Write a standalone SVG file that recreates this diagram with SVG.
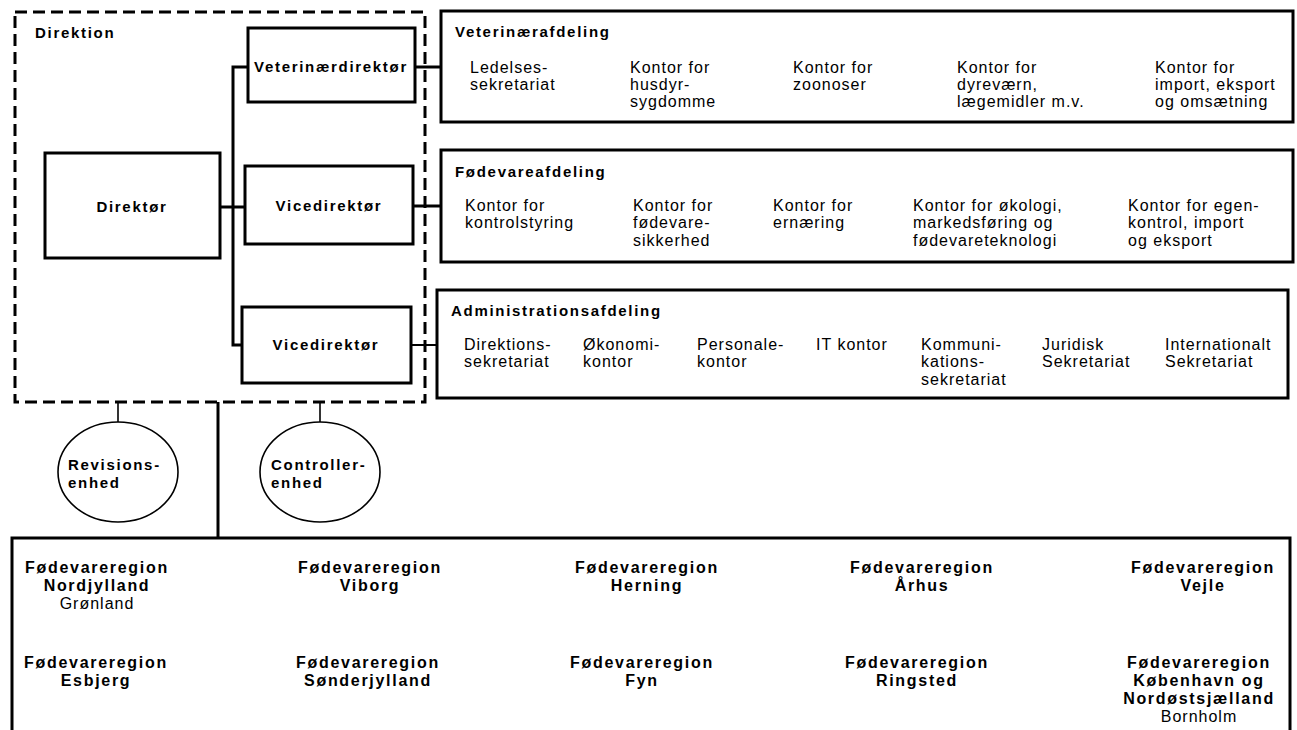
<svg xmlns="http://www.w3.org/2000/svg" width="1297" height="730" viewBox="0 0 1297 730">
<style>
.box{fill:#fff;stroke:#000;stroke-width:3}
.dash{fill:none;stroke:#000;stroke-width:3;stroke-dasharray:12 6}
.ell{fill:#fff;stroke:#000;stroke-width:1.6}
.ln{fill:none;stroke:#000;stroke-width:3}
.thin{fill:none;stroke:#000;stroke-width:1.6}
text{font-family:"Liberation Sans",Arial,sans-serif;fill:#000}
.t{font-size:15px;font-weight:bold;letter-spacing:1.7px}
.o{font-size:16px;letter-spacing:1px}
.r{font-size:16px;font-weight:bold;letter-spacing:1.7px;text-anchor:middle}
.rn{font-size:16px;letter-spacing:1px;text-anchor:middle}
.c{text-anchor:middle}
</style>
<rect width="1297" height="730" fill="#fff"/>
<g id="connectors">
<path class="ln" d="M248,67 H233 V345 H242"/>
<path class="ln" d="M220,207 H245"/>
<path class="ln" d="M415,67 H441"/>
<path class="ln" d="M413,206 H441"/>
<path class="ln" d="M411,345 H437" style="stroke-width:2"/>
<path class="ln" d="M218,402 V538"/>
<path class="thin" d="M118,402 V422"/>
<path class="thin" d="M320,402 V422"/>
</g>
<g id="direktion">
<rect class="dash" x="15" y="12" width="410" height="390"/>
<text class="t" x="35" y="38">Direktion</text>
</g>
<g id="veterinaerdirektoer">
<rect class="box" x="248" y="28" width="167" height="74"/>
<text class="t c" x="331" y="72">Veterinærdirektør</text>
</g>
<g id="direktoer">
<rect class="box" x="45" y="153" width="175" height="105"/>
<text class="t c" x="132" y="212">Direktør</text>
</g>
<g id="vicedirektoer1">
<rect class="box" x="245" y="166" width="168" height="78"/>
<text class="t c" x="329" y="211">Vicedirektør</text>
</g>
<g id="vicedirektoer2">
<rect class="box" x="242" y="307" width="169" height="76"/>
<text class="t c" x="326" y="350">Vicedirektør</text>
</g>
<g id="veterinaerafdeling">
<rect class="box" x="441" y="11" width="852" height="111"/>
<text class="t" x="455" y="37">Veterinærafdeling</text>
<text class="o" x="470" y="73">Ledelses-</text>
<text class="o" x="470" y="90">sekretariat</text>
<text class="o" x="630" y="73">Kontor for</text>
<text class="o" x="630" y="90">husdyr-</text>
<text class="o" x="630" y="107">sygdomme</text>
<text class="o" x="793" y="73">Kontor for</text>
<text class="o" x="793" y="90">zoonoser</text>
<text class="o" x="957" y="73">Kontor for</text>
<text class="o" x="957" y="90">dyreværn,</text>
<text class="o" x="957" y="107">lægemidler m.v.</text>
<text class="o" x="1155" y="73">Kontor for</text>
<text class="o" x="1155" y="90">import, eksport</text>
<text class="o" x="1155" y="107">og omsætning</text>
</g>
<g id="foedevareafdeling">
<rect class="box" x="441" y="150" width="852" height="112"/>
<text class="t" x="455" y="177">Fødevareafdeling</text>
<text class="o" x="465" y="211">Kontor for</text>
<text class="o" x="465" y="228">kontrolstyring</text>
<text class="o" x="633" y="211">Kontor for</text>
<text class="o" x="633" y="228">fødevare-</text>
<text class="o" x="633" y="246">sikkerhed</text>
<text class="o" x="773" y="211">Kontor for</text>
<text class="o" x="773" y="228">ernæring</text>
<text class="o" x="913" y="211">Kontor for økologi,</text>
<text class="o" x="913" y="228">markedsføring og</text>
<text class="o" x="913" y="246">fødevareteknologi</text>
<text class="o" x="1128" y="211">Kontor for egen-</text>
<text class="o" x="1128" y="228">kontrol, import</text>
<text class="o" x="1128" y="246">og eksport</text>
</g>
<g id="administrationsafdeling">
<rect class="box" x="437" y="290" width="851" height="108"/>
<text class="t" x="451" y="316">Administrationsafdeling</text>
<text class="o" x="464" y="350">Direktions-</text>
<text class="o" x="464" y="367">sekretariat</text>
<text class="o" x="583" y="350">Økonomi-</text>
<text class="o" x="583" y="367">kontor</text>
<text class="o" x="697" y="350">Personale-</text>
<text class="o" x="697" y="367">kontor</text>
<text class="o" x="816" y="350">IT kontor</text>
<text class="o" x="921" y="350">Kommuni-</text>
<text class="o" x="921" y="367">kations-</text>
<text class="o" x="921" y="385">sekretariat</text>
<text class="o" x="1042" y="350">Juridisk</text>
<text class="o" x="1042" y="367">Sekretariat</text>
<text class="o" x="1165" y="350">Internationalt</text>
<text class="o" x="1165" y="367">Sekretariat</text>
</g>
<g id="revisionsenhed">
<ellipse class="ell" cx="118" cy="472" rx="60" ry="50"/>
<text class="t" x="68" y="470">Revisions-</text>
<text class="t" x="68" y="488">enhed</text>
</g>
<g id="controllerenhed">
<ellipse class="ell" cx="320" cy="472" rx="60" ry="50"/>
<text class="t" x="271" y="470">Controller-</text>
<text class="t" x="271" y="488">enhed</text>
</g>
<g id="foedevareregioner">
<rect class="box" x="12" y="538" width="1278" height="260"/>
<text class="r" x="97" y="573">Fødevareregion</text>
<text class="r" x="97" y="591">Nordjylland</text>
<text class="rn" x="97" y="609">Grønland</text>
<text class="r" x="370" y="573">Fødevareregion</text>
<text class="r" x="370" y="591">Viborg</text>
<text class="r" x="647" y="573">Fødevareregion</text>
<text class="r" x="647" y="591">Herning</text>
<text class="r" x="922" y="573">Fødevareregion</text>
<text class="r" x="922" y="591">Århus</text>
<text class="r" x="1203" y="573">Fødevareregion</text>
<text class="r" x="1203" y="591">Vejle</text>
<text class="r" x="96" y="668">Fødevareregion</text>
<text class="r" x="96" y="686">Esbjerg</text>
<text class="r" x="368" y="668">Fødevareregion</text>
<text class="r" x="368" y="686">Sønderjylland</text>
<text class="r" x="642" y="668">Fødevareregion</text>
<text class="r" x="642" y="686">Fyn</text>
<text class="r" x="917" y="668">Fødevareregion</text>
<text class="r" x="917" y="686">Ringsted</text>
<text class="r" x="1199" y="668">Fødevareregion</text>
<text class="r" x="1199" y="686">København og</text>
<text class="r" x="1199" y="704">Nordøstsjælland</text>
<text class="rn" x="1199" y="722">Bornholm</text>
</g>
</svg>
